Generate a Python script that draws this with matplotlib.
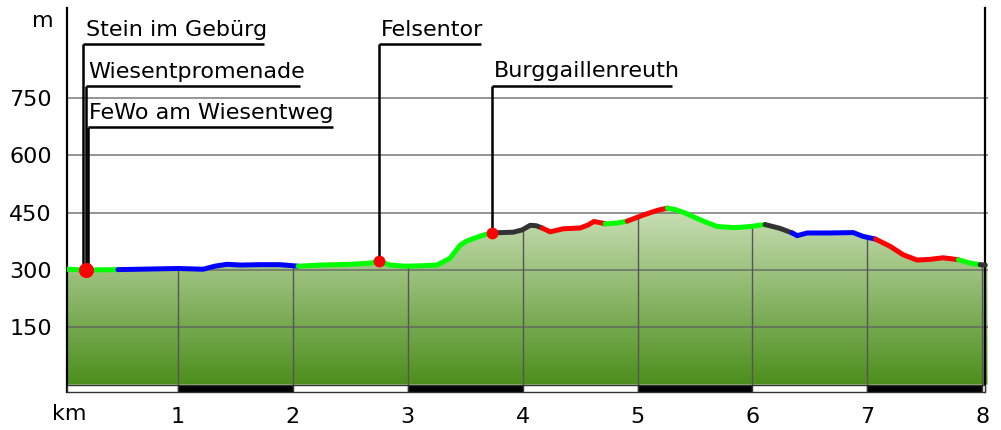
import numpy as np
import matplotlib
matplotlib.use("Agg")
import matplotlib.pyplot as plt
from matplotlib.patches import Rectangle, Polygon

# ---------------- data ----------------
dist_km = [0.034, 0.2, 0.478, 1.0, 1.218, 1.32, 1.427, 1.54, 1.714, 1.888, 2.046,
           2.237, 2.498, 2.672, 2.75, 2.846, 2.977, 3.108, 3.255, 3.369, 3.456,
           3.508, 3.604, 3.665, 3.725, 3.917, 3.996, 4.065, 4.117, 4.169, 4.239,
           4.354, 4.5, 4.57, 4.62, 4.675, 4.718, 4.823, 4.91, 5.05, 5.17, 5.259,
           5.329, 5.416, 5.502, 5.589, 5.693, 5.833, 5.954, 6.11, 6.24, 6.346,
           6.39, 6.477, 6.677, 6.877, 6.963, 7.07, 7.198, 7.311, 7.433, 7.547,
           7.66, 7.792, 7.895, 7.982, 8.026]
elev_m = [302, 300, 301, 304, 302, 310, 315, 313, 314, 314, 310,
          313, 315, 318, 323, 313, 310, 311, 313, 331, 365,
          375, 386, 392, 397, 399, 405, 417, 416, 410, 400,
          408, 410, 418, 427, 424, 421, 423, 428, 444, 456, 462,
          458, 449, 437, 426, 414, 411, 413, 419, 409, 397,
          390, 397, 397, 398, 388, 381, 362, 340, 326, 328,
          332, 327, 318, 314, 313]

# path-type segments: end km of each segment and its colour
seg_end_km = [0.478, 2.046, 3.725, 4.169, 4.718, 4.91, 5.259, 6.11, 6.346,
              7.07, 7.792, 7.982, 8.026]
seg_color = ["#00ff00", "#0000ff", "#00ff00", "#333333", "#ff0000", "#00ff00",
             "#ff0000", "#00ff00", "#333333", "#0000ff", "#ff0000", "#00ff00",
             "#333333"]

wp_names = ["Stein im Gebürg", "Wiesentpromenade", "FeWo am Wiesentweg",
            "Felsentor", "Burggaillenreuth"]
wp_km = [0.2, 0.2, 0.2, 2.75, 3.73]
wp_elev = [300, 300, 300, 323, 397]

y_ticks = [150, 300, 450, 600, 750]
x_ticks = [1, 2, 3, 4, 5, 6, 7, 8]

# ---------------- figure ----------------
W, H = 1001, 430
fig = plt.figure(figsize=(W / 100, H / 100), dpi=100)
L, R, T, B = 67, 988, 8, 392
ax = fig.add_axes([L / W, 1 - B / H, (R - L) / W, (B - T) / H])
x0, x1 = 0.034, 8.05
y0, y1 = -19.4, 986
ax.set_xlim(x0, x1)
ax.set_ylim(y0, y1)

for s in ["top", "right", "bottom"]:
    ax.spines[s].set_visible(False)
ax.spines["left"].set_linewidth(1.6)
ax.spines["left"].set_color("black")

FS = 16
plt.rcParams["font.family"] = ["DejaVu Sans"]

d = np.array(dist_km)
e = np.array(elev_m)

# gradient fill clipped to profile
top_c = np.array([202, 223, 182]) / 255
bot_c = np.array([76, 142, 28]) / 255
peak = e.max()
n = 256
t = np.linspace(1, 0, n)[:, None]
grad = (bot_c[None, :] * (1 - t) + top_c[None, :] * t)[:, None, :]
grad = np.repeat(grad, 2, axis=1)
poly_xy = np.vstack([np.column_stack([np.r_[d, 8.045], np.r_[e, e[-1]]]),
                     [[8.045, 0], [d[0], 0]]])
clip = Polygon(poly_xy, closed=True, facecolor="none", edgecolor="none")
ax.add_patch(clip)
im = ax.imshow(grad, extent=[d[0], 8.045, 0, peak], aspect="auto",
               origin="upper", zorder=1, interpolation="bilinear")
im.set_clip_path(clip)

# horizontal grid
for yv in y_ticks:
    ax.axhline(yv, color="#606060", lw=1.1, alpha=0.85, zorder=2)

# vertical grid lines inside the fill
for xv in x_ticks:
    ax.plot([xv, xv], [0, np.interp(xv, d, e)], color="#555555", lw=1.0,
            zorder=2)

# right boundary line
ax.plot([8.026, 8.026], [y0, y1], color="black", lw=1.6, zorder=3,
        clip_on=False)

# km bar
edges = [x0] + x_ticks + [8.026]
for i in range(len(edges) - 1):
    fc = "white" if i % 2 == 0 else "black"
    ax.add_patch(Rectangle((edges[i], y0), edges[i + 1] - edges[i], -y0,
                           facecolor=fc, edgecolor="#333333", lw=1.0,
                           zorder=3, clip_on=False))

# profile line segments
start = d[0]
for end, col in zip(seg_end_km, seg_color):
    m = (d >= start - 1e-9) & (d <= end + 1e-9)
    ax.plot(d[m], e[m], color=col, lw=3.6, solid_capstyle="round",
            solid_joinstyle="round", zorder=5)
    start = end

# waypoint leaders and labels
lead_x = [0.173, 0.199, 0.217, 2.75, 3.734]
line_y = [891, 781, 674, 891, 781]
line_end = [1.749, 2.062, 2.35, 3.638, 5.301]
text_x = [0.199, 0.217, 0.225, 2.767, 3.752]
text_y = [912, 802, 696, 912, 805]
for i, name in enumerate(wp_names):
    ax.plot([lead_x[i], lead_x[i]], [wp_elev[i], line_y[i]], color="black",
            lw=1.8, zorder=4, solid_capstyle="butt")
    ax.plot([lead_x[i], line_end[i]], [line_y[i], line_y[i]], color="black",
            lw=1.8, zorder=4, solid_capstyle="butt")
    ax.text(text_x[i], text_y[i], name, fontsize=FS, ha="left",
            va="baseline", color="black", zorder=6)

ms = [10.5, 10.5, 10.5, 8.5, 8.5]
for i in range(len(wp_names)):
    ax.plot(wp_km[i], wp_elev[i], "o", color="#ff0000", ms=ms[i],
            mec="none", zorder=7)

# ticks
ax.set_yticks(y_ticks)
ax.set_yticklabels([str(v) for v in y_ticks], fontsize=FS)
ax.set_xticks(x_ticks)
ax.set_xticklabels([str(v) for v in x_ticks], fontsize=FS)
ax.tick_params(axis="y", length=0, pad=11)
ax.tick_params(axis="x", length=0, pad=11)

fig.text(43 / W, 1 - 21 / H, "m", fontsize=FS, ha="center", va="center")
fig.text(69 / W, 1 - 414 / H, "km", fontsize=FS, ha="center", va="center")

fig.savefig("out.png", dpi=100)
